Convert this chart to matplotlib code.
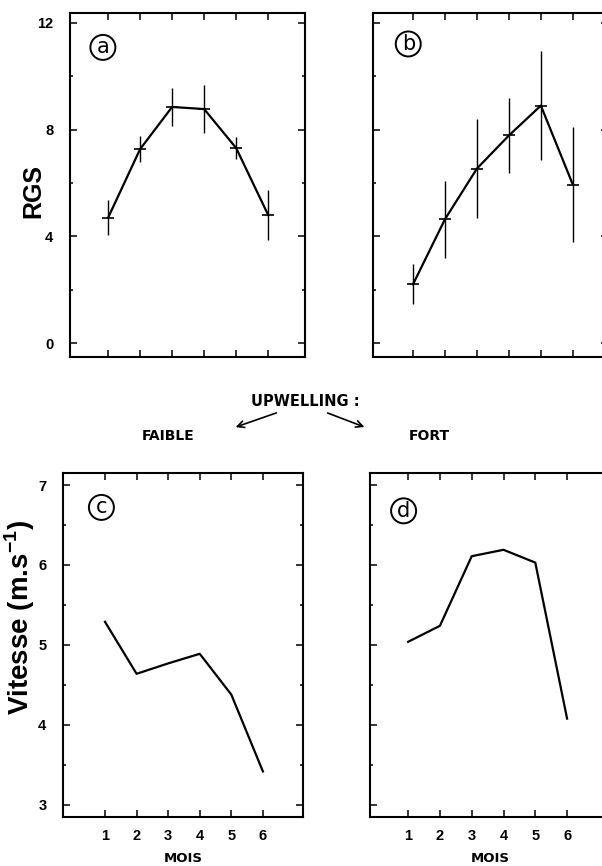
import matplotlib

matplotlib.use('Agg')
import matplotlib.pyplot as plt
from matplotlib.patches import FancyArrowPatch
from matplotlib.ticker import MultipleLocator

plt.rcParams['font.family'] = ['Liberation Sans', 'DejaVu Sans']
plt.rcParams['font.weight'] = 'bold'
plt.rcParams['mathtext.fontset'] = 'custom'
plt.rcParams['mathtext.bf'] = 'Liberation Sans:bold'
plt.rcParams['mathtext.rm'] = 'Liberation Sans:bold'

months = [1, 2, 3, 4, 5, 6]

# RGS - upwelling faible (a) / fort (b)
rgs_faible = [4.7, 7.27, 8.85, 8.77, 7.31, 4.8]
rgs_faible_err = [0.65, 0.5, 0.7, 0.9, 0.42, 0.95]
rgs_fort = [2.2, 4.64, 6.54, 7.78, 8.9, 5.94]
rgs_fort_err = [0.75, 1.45, 1.85, 1.4, 2.05, 2.15]

# vitesse du vent (c) / (d)
vit_faible = [5.29, 4.64, 4.77, 4.89, 4.38, 3.42]
vit_fort = [5.04, 5.24, 6.11, 6.19, 6.03, 4.08]

W, H = 602, 866
fig = plt.figure(figsize=(W / 100, H / 100), dpi=100)


def box(px_left, px_top, px_w, px_h):
    return [px_left / W, 1 - (px_top + px_h) / H, px_w / W, px_h / H]


def style(ax, major, minor):
    ax.yaxis.set_major_locator(MultipleLocator(major))
    ax.yaxis.set_minor_locator(MultipleLocator(minor))
    ax.set_xticks(months)
    ax.tick_params(which='both', direction='in', top=True, right=True,
                   width=1.1, labelsize=10.5)
    ax.tick_params(which='major', length=5)
    ax.tick_params(which='minor', length=2.5)
    ax.tick_params(axis='y', pad=12)
    ax.tick_params(axis='x', pad=9)
    for s in ax.spines.values():
        s.set_linewidth(1.5)


def tag(ax, letter, x, y):
    ax.text(x, y, letter, transform=ax.transAxes, fontsize=15,
            fontweight='normal', family='DejaVu Sans', ha='center', va='center',
            bbox=dict(boxstyle='circle,pad=0.12', fc='white', ec='black', lw=1.4))


ax_a = fig.add_axes(box(70, 13, 235, 344))
ax_b = fig.add_axes(box(373, 13, 235, 344))
ax_c = fig.add_axes(box(63, 473, 240, 344))
ax_d = fig.add_axes(box(370, 473, 240, 344))

for ax, vals, err in [(ax_a, rgs_faible, rgs_faible_err), (ax_b, rgs_fort, rgs_fort_err)]:
    ax.errorbar(months, vals, yerr=err, color='black', lw=1.6, elinewidth=1.0,
                capsize=0, marker='_', ms=9, mew=1.2)
    ax.set_ylim(-0.52, 12.37)
    style(ax, 4, 2)
    ax.set_yticks([0, 4, 8, 12])
    ax.tick_params(axis='x', labelbottom=False)

ax_a.set_xlim(-0.19, 7.15)
ax_b.set_xlim(-0.25, 7.1)
ax_b.tick_params(axis='y', labelleft=False)
ax_a.set_ylabel('RGS', fontsize=18, fontweight='bold')
ax_a.yaxis.set_label_coords(-0.106, 0.483)

for ax, vals in [(ax_c, vit_faible), (ax_d, vit_fort)]:
    ax.plot(months, vals, color='black', lw=1.6)
    ax.set_ylim(2.85, 7.15)
    style(ax, 1, 0.5)
    ax.set_xlabel('MOIS', fontsize=9.5, fontweight='bold', family='DejaVu Sans', labelpad=6)

ax_c.set_xlim(-0.33, 7.27)
ax_d.set_xlim(-0.2, 7.35)
ax_d.tick_params(axis='y', labelleft=False)
ax_c.set_ylabel('Vitesse (m.s$^{\\mathbf{-1}}$)', fontsize=20, fontweight='bold')
ax_c.yaxis.set_label_coords(-0.108, 0.581)

tag(ax_a, 'a', 0.14, 0.90)
tag(ax_b, 'b', 0.15, 0.91)
tag(ax_c, 'c', 0.16, 0.90)
tag(ax_d, 'd', 0.14, 0.89)

# upwelling annotation between rows
mid = dict(ha='center', va='center', family='DejaVu Sans', fontweight='bold')
fig.text(305 / W, 1 - 402 / H, 'UPWELLING :', fontsize=10.5, **mid)
fig.text(168 / W, 1 - 436 / H, 'FAIBLE', fontsize=10, **mid)
fig.text(429 / W, 1 - 436 / H, 'FORT', fontsize=10, **mid)
arrow = dict(arrowstyle='->', color='black', lw=1.2, mutation_scale=12)
fig.add_artist(FancyArrowPatch((279 / W, 1 - 412 / H), (233 / W, 1 - 428 / H),
                               transform=fig.transFigure, **arrow))
fig.add_artist(FancyArrowPatch((325 / W, 1 - 412 / H), (367 / W, 1 - 428 / H),
                               transform=fig.transFigure, **arrow))

fig.savefig('out.png', dpi=100)
